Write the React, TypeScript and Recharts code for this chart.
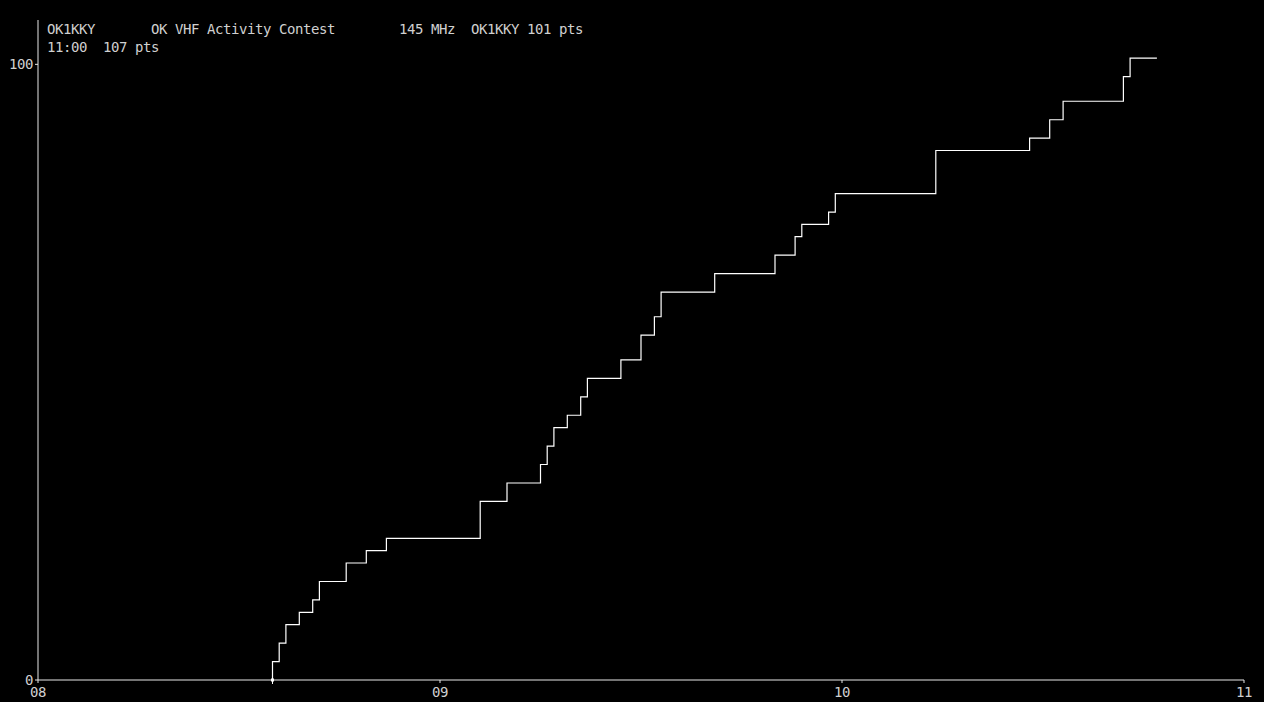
import { LineChart, Line, XAxis, YAxis, ReferenceDot } from 'recharts';

// minutes after 08:00 when the score changed, and the score reached at that moment
const minutes = [
  35, 35, 36, 37, 39, 41, 42, 46, 49, 52, 66, 70, 75, 76, 77, 79, 81, 82, 87, 90, 92, 93,
  101, 110, 113, 114, 118, 119, 134, 148, 151, 153, 162, 163, 167,
];
const points = [
  0, 3, 6, 9, 11, 13, 16, 19, 21, 23, 29, 32, 35, 38, 41, 43, 46, 49, 52, 56, 59, 63,
  66, 69, 72, 74, 76, 79, 86, 88, 91, 94, 98, 101, 101,
];

const hourTicks = [0, 60, 120, 180];
const hourLabels = ['08', '09', '10', '11'];
const scoreTicks = [0, 100];

const titleLine = 'OK1KKY       OK VHF Activity Contest        145 MHz  OK1KKY 101 pts';
const subLine = '11:00  107 pts';

const data = minutes.map((m, i) => ({ t: m, pts: points[i] }));

const FONT = '"DejaVu Sans Mono", monospace';
const TEXT = '#d0d0d0';
const AXIS = '#e8e8e8';

const tickStyle = { fill: TEXT, fontSize: 14, fontFamily: FONT, letterSpacing: -0.43 };

const StartMark = (props: any) => {
  const { cx, cy } = props;
  return (
    <g>
      <rect x={cx - 1.5} y={cy - 1.5} width={3} height={3} fill="#ffffff" />
      <line x1={cx} y1={cy} x2={cx} y2={cy + 4} stroke="#ffffff" strokeWidth={1} />
    </g>
  );
};

export default function App() {
  return (
    <div
      style={{
        position: 'absolute',
        left: 0,
        top: 0,
        width: 1264,
        height: 702,
        background: '#000000',
        overflow: 'hidden',
      }}
    >
      <LineChart
        width={1264}
        height={702}
        data={data}
        margin={{ top: 20, right: 20, bottom: 0, left: 0 }}
      >
        <XAxis
          dataKey="t"
          type="number"
          domain={[0, 180]}
          ticks={hourTicks}
          tickFormatter={(v: number) => hourLabels[hourTicks.indexOf(v)]}
          height={22}
          tickSize={3}
          tickMargin={4}
          stroke={AXIS}
          tick={tickStyle}
          interval={0}
        />
        <YAxis
          type="number"
          domain={[0, 107.2]}
          ticks={scoreTicks}
          width={38}
          tickSize={3}
          tickMargin={2}
          stroke={AXIS}
          tick={tickStyle}
          interval={0}
          allowDataOverflow
        />
        <Line
          type="stepAfter"
          dataKey="pts"
          stroke="#ffffff"
          strokeWidth={1.2}
          dot={false}
          isAnimationActive={false}
        />
        <ReferenceDot x={minutes[0]} y={points[0]} r={2} shape={StartMark} />
      </LineChart>
      <div
        style={{
          position: 'absolute',
          left: 47,
          top: 20,
          fontFamily: FONT,
          fontSize: 14,
          letterSpacing: -0.43,
          lineHeight: '18px',
          color: TEXT,
          whiteSpace: 'pre',
        }}
      >
        <div>{titleLine}</div>
        <div>{subLine}</div>
      </div>
    </div>
  );
}
